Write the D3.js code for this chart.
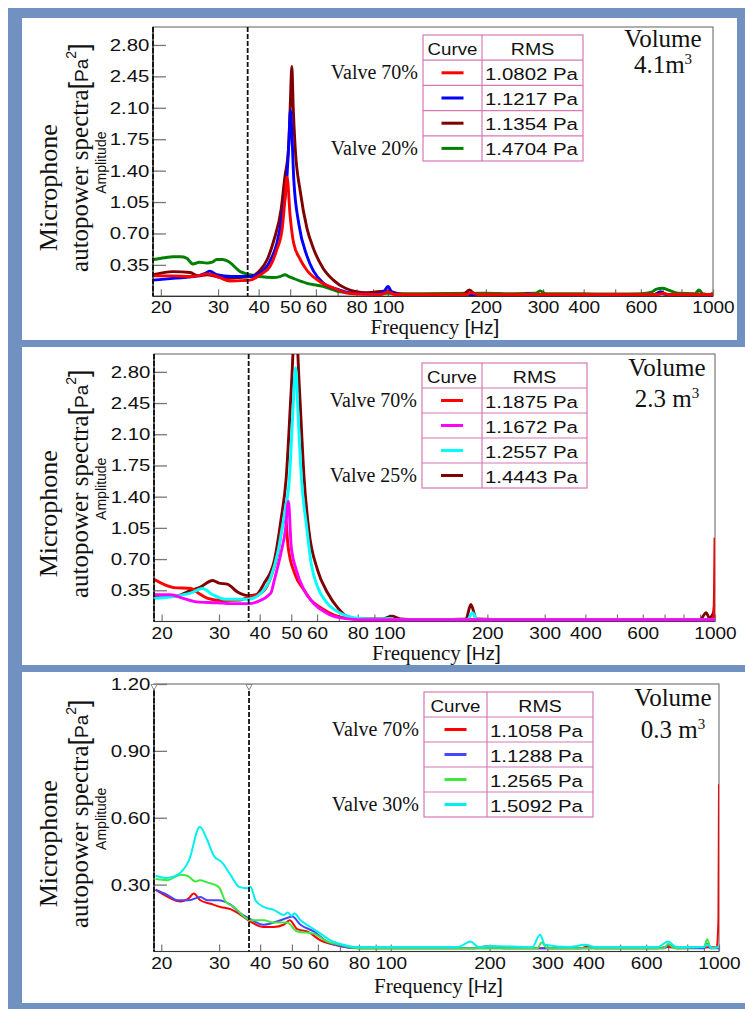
<!DOCTYPE html>
<html><head><meta charset="utf-8">
<script src="https://cdn.jsdelivr.net/npm/d3@7"></script>
<style>body{margin:0;background:#fff}svg{display:block}</style>
</head><body>
<script>
// ---------------- data ----------------
const xTickValues = [20,30,40,50,60,70,80,90,100,200,300,400,500,600,700,800,900,1000];
const xTickLabels = [20,30,40,50,60,80,100,200,300,400,600,1000];
const yTicksLarge = [0.35,0.70,1.05,1.40,1.75,2.10,2.45,2.80];
const yTicksSmall = [0.30,0.60,0.90,1.20];
const markerFreq = 37;

// Top panel (Volume 4.1 m3)
const topRed = [[19,0.227],[21.8,0.227],[24.6,0.22],[26.1,0.23],[27.7,0.25],[28.8,0.24],[30.3,0.21],[32.6,0.17],[35.6,0.175],[37.6,0.18],[40.4,0.24],[43.3,0.33],[45.5,0.52],[47.2,0.74],[48.2,1.08],[48.9,1.33],[50.0,0.89],[51.2,0.6],[53.7,0.41],[56.3,0.29],[61.9,0.16],[68.2,0.09],[74,0.04],[81,0.025],[95,0.02],[100,0.05],[105,0.02],[175,0.02],[180,0.04],[190,0.02],[680,0.02],[700,0.035],[730,0.02],[1000,0.02]];
const topBlue = [[19,0.18],[21.8,0.2],[26.1,0.227],[27.5,0.26],[28.3,0.28],[29.7,0.24],[33,0.22],[37.6,0.22],[40.4,0.26],[43.3,0.39],[45.5,0.59],[47.2,0.89],[48.9,1.34],[49.6,1.75],[50.1,2.07],[50.7,1.75],[51.3,1.3],[53.2,0.8],[56.3,0.45],[59,0.28],[63.1,0.15],[71,0.07],[80,0.03],[92,0.025],[97,0.05],[100,0.11],[103,0.04],[110,0.02],[260,0.02],[270,0.03],[280,0.015],[660,0.02],[690,0.045],[720,0.02],[1000,0.015]];
const topMaroon = [[19,0.24],[21.8,0.275],[24.6,0.265],[26.1,0.227],[27.7,0.24],[29.7,0.22],[31.7,0.2],[34.9,0.21],[37.6,0.22],[40.4,0.29],[42.5,0.41],[44.6,0.63],[46.9,0.97],[48.2,1.34],[49.4,1.64],[50.0,2.1],[50.6,2.56],[51.1,2.1],[51.8,1.66],[53.7,1.17],[56.3,0.76],[59,0.53],[63.2,0.31],[67.9,0.18],[74,0.09],[86,0.04],[100,0.06],[110,0.02],[170,0.02],[178,0.07],[186,0.02],[660,0.02],[690,0.05],[720,0.02],[1000,0.015]];
const topGreen = [[19,0.41],[20.5,0.43],[21.8,0.44],[23,0.44],[24,0.425],[25.1,0.36],[26.3,0.38],[27.7,0.37],[28.8,0.38],[29.7,0.41],[31,0.41],[32.2,0.39],[35.1,0.275],[37.6,0.24],[40.4,0.22],[44.3,0.21],[46.5,0.22],[48.2,0.24],[49.5,0.22],[51.1,0.2],[56.3,0.145],[63.1,0.11],[71.2,0.05],[80.2,0.035],[120,0.03],[200,0.035],[240,0.03],[285,0.035],[294,0.06],[305,0.03],[400,0.03],[500,0.025],[600,0.03],[650,0.05],[670,0.08],[700,0.09],[730,0.07],[780,0.035],[880,0.03],[905,0.07],[930,0.03],[980,0.02],[1000,0.04]];

// Middle panel (Volume 2.3 m3)
const midRed = [[19,0.47],[21.8,0.38],[24.6,0.37],[25.9,0.32],[27.7,0.26],[30.6,0.235],[34.9,0.24],[37,0.28],[38.7,0.29],[41.3,0.35],[43.3,0.5],[45.5,0.77],[47.1,1.1],[48,1.16],[48.9,0.84],[51.2,0.54],[54.8,0.35],[57.5,0.24],[61.9,0.15],[68,0.07],[74,0.035],[85,0.02],[970,0.02],[990,0.05],[996,0.3],[1000,0.94]];
const midMagenta = [[19,0.3],[21.3,0.3],[23.3,0.26],[25.6,0.22],[29.7,0.21],[32.6,0.2],[37,0.2],[39.2,0.22],[43.3,0.32],[44.4,0.47],[46.5,0.77],[48,1.03],[49,1.35],[50,0.84],[51.8,0.58],[54.8,0.35],[58.7,0.2],[63.2,0.11],[67.9,0.054],[75,0.03],[85,0.02],[1000,0.02]];
const midCyan = [[19,0.26],[21.8,0.28],[24.6,0.32],[26.7,0.37],[28.7,0.3],[31.4,0.25],[37,0.25],[40.4,0.32],[43.3,0.5],[45.5,0.78],[47.8,1.24],[49.4,1.62],[50.5,2.3],[51.6,2.85],[52.5,2.3],[53.7,1.62],[55.8,1.05],[57.5,0.66],[60.2,0.39],[64.7,0.2],[71,0.09],[78.3,0.04],[90,0.025],[100,0.035],[106,0.02],[174,0.02],[180,0.1],[186,0.02],[1000,0.02]];
const midMaroon = [[19,0.28],[21.8,0.28],[24.6,0.35],[26.1,0.38],[28.7,0.46],[30,0.43],[31.8,0.42],[34.2,0.33],[36.9,0.29],[39,0.3],[41.3,0.43],[44.4,0.69],[46.5,1.14],[48.2,1.59],[50,2.6],[51.5,3.4],[53,2.6],[54.8,1.59],[56.6,1.03],[60.2,0.58],[64.7,0.32],[69.6,0.15],[74,0.06],[80,0.03],[95,0.03],[102,0.06],[108,0.03],[130,0.02],[172,0.03],[178,0.19],[185,0.03],[300,0.02],[900,0.02],[940,0.1],[960,0.04],[990,0.1],[1000,0.25]];

// Bottom panel (Volume 0.3 m3)
const botRed = [[19.2,0.277],[20.85,0.246],[22.9,0.224],[24.3,0.24],[25.1,0.26],[26.3,0.23],[28.3,0.214],[30.3,0.2],[32.5,0.19],[34.9,0.164],[37.4,0.134],[41,0.11],[44,0.11],[47.2,0.12],[49.2,0.14],[51.9,0.1],[55.6,0.09],[61.1,0.05],[70,0.025],[80,0.015],[180,0.015],[200,0.025],[220,0.015],[380,0.015],[400,0.025],[420,0.015],[650,0.015],[700,0.02],[750,0.015],[985,0.02],[996,0.15],[1000,0.75]];
const botBlue = [[19.2,0.277],[20.85,0.254],[22.4,0.23],[24.3,0.23],[26.3,0.244],[27.6,0.23],[29.9,0.23],[31,0.225],[32.5,0.21],[34.9,0.17],[37.4,0.145],[41,0.12],[44,0.13],[48.3,0.15],[50.1,0.157],[53.1,0.12],[58.3,0.09],[64,0.044],[70,0.025],[80,0.015],[680,0.015],[710,0.03],[740,0.015],[900,0.015],[920,0.035],[940,0.015],[1000,0.015]];
const botGreen = [[19.2,0.325],[20.85,0.32],[22.9,0.344],[24,0.34],[25.4,0.314],[26.2,0.32],[27.6,0.31],[29.9,0.29],[31.4,0.224],[33.3,0.2],[35.7,0.157],[37.4,0.14],[41,0.14],[44,0.13],[48.3,0.13],[51.9,0.09],[58.3,0.08],[64,0.044],[70.2,0.03],[80,0.015],[280,0.015],[288,0.04],[300,0.015],[680,0.015],[700,0.035],[730,0.015],[900,0.02],[920,0.055],[945,0.015],[1000,0.02]];
const botCyan = [[19.2,0.34],[20.85,0.33],[22.4,0.344],[24.3,0.41],[26.2,0.56],[27.6,0.5],[28.9,0.43],[30.6,0.4],[32.5,0.344],[34.5,0.29],[36.5,0.284],[37.4,0.29],[38.7,0.23],[41,0.2],[44,0.187],[47.2,0.164],[48.6,0.175],[49.8,0.16],[50.9,0.17],[53.1,0.14],[56.9,0.11],[61.1,0.08],[65.5,0.05],[70.2,0.034],[79,0.02],[160,0.02],[175,0.045],[185,0.02],[200,0.025],[270,0.02],[285,0.075],[295,0.03],[350,0.02],[390,0.03],[420,0.02],[650,0.02],[700,0.045],[740,0.02],[900,0.02],[920,0.03],[960,0.015],[1000,0.02]];

const topRms = ["1.0802 Pa","1.1217 Pa","1.1354 Pa","1.4704 Pa"];
const midRms = ["1.1875 Pa","1.1672 Pa","1.2557 Pa","1.4443 Pa"];
const botRms = ["1.1058 Pa","1.1288 Pa","1.2565 Pa","1.5092 Pa"];
const topValves = ["Valve 70%","","","Valve 20%"];
const midValves = ["Valve 70%","","","Valve 25%"];
const botValves = ["Valve 70%","","","Valve 30%"];
const volumeLabels = ["4.1m","2.3 m","0.3 m"];

// ---------------- layout / styles ----------------
const BLUE = "#7191c1", PINK = "#d877b6";
const panels = [
  {box:[22,18,715,322], plot:[153,713,27,296.3], xMin:18.92, yMax:3.0, yTicks:yTicksLarge, lw:2.9,
   series:[{d:topGreen,c:"#008000"},{d:topMaroon,c:"#800000"},{d:topBlue,c:"#0000ff"},{d:topRed,c:"#ff0000"}],
   legendColors:["#ff0000","#0000ff","#800000","#008000"], rms:topRms, valves:topValves,
   legend:[423,482,583,35,25.2], vol:[663,47,73,volumeLabels[0]], tri:false, xt:38},
  {box:[22,347,723,318], plot:[154,715,354,621.5], xMin:18.95, yMax:3.0, yTicks:yTicksLarge, lw:2.9,
   series:[{d:midMaroon,c:"#800000"},{d:midRed,c:"#ff0000"},{d:midCyan,c:"#00ffff"},{d:midMagenta,c:"#ff00ff"}],
   legendColors:["#ff0000","#ff00ff","#00ffff","#800000"], rms:midRms, valves:midValves,
   legend:[422,482,587,363,25], vol:[667,376,407,volumeLabels[1]], tri:false, xt:38},
  {box:[22,672,723,331], plot:[154,719,684,951.5], xMin:19.0, yMax:1.2, yTicks:yTicksSmall, lw:2,
   series:[{d:botRed,c:"#ff0000"},{d:botBlue,c:"#4646ff"},{d:botGreen,c:"#3ee83e"},{d:botCyan,c:"#00f0f0"}],
   legendColors:["#ff0000","#4646ff","#3ee83e","#00f0f0"], rms:botRms, valves:botValves,
   legend:[424,487,593,692,25], vol:[673,706,738,volumeLabels[2]], tri:true, xt:41}
];

const svg = d3.select("body").append("svg").attr("width",745).attr("height",1009);
svg.append("rect").attr("width",745).attr("height",1009).attr("fill","#fff");
svg.append("rect").attr("x",8).attr("y",8).attr("width",737).attr("height",1001).attr("fill",BLUE);

const SANS = "'Liberation Sans', Arial, sans-serif";
const SERIF = "'Liberation Serif', 'Times New Roman', serif";

function sText(g, x, y, str, size, anchor, sx, fam, fill){
  return g.append("text").attr("transform",`translate(${x},${y}) scale(${sx},1)`)
    .attr("text-anchor",anchor).attr("font-family",fam||SANS).attr("font-size",size)
    .attr("fill",fill||"#111").text(str);
}

panels.forEach((p,pi)=>{
  const [bx,by,bw,bh] = p.box;
  svg.append("rect").attr("x",bx).attr("y",by).attr("width",bw).attr("height",bh).attr("fill","#fff");
  const [x0,x1,y0,y1] = p.plot;
  const x = d3.scaleLog().domain([p.xMin,1000]).range([x0,x1]);
  const y = d3.scaleLinear().domain([0,p.yMax]).range([y1,y0]);
  const g = svg.append("g");

  // plot frame
  g.append("rect").attr("x",x0).attr("y",y0).attr("width",x1-x0).attr("height",y1-y0)
    .attr("fill","none").attr("stroke","#7a7a7a").attr("stroke-width",1.2);

  // y axis
  const ya = g.append("g").attr("transform",`translate(${x0},0)`)
    .call(d3.axisLeft(y).tickValues(p.yTicks).tickSize(-13).tickPadding(3).tickFormat(d3.format(".2f")));
  ya.select(".domain").remove();
  ya.selectAll("line").attr("stroke","#777").attr("stroke-width",1.3);
  ya.selectAll("text").attr("font-family",SANS).attr("font-size",17).attr("fill","#111")
    .attr("transform","scale(1.2,1)");

  // x axis
  const xa = g.append("g").attr("transform",`translate(0,${y1})`)
    .call(d3.axisBottom(x).tickValues(xTickValues).tickSize(-7).tickPadding(5)
      .tickFormat(d => xTickLabels.includes(d) ? String(d) : ""));
  xa.select(".domain").remove();
  xa.selectAll("line").attr("stroke","#777").attr("stroke-width",1.2);
  xa.selectAll("text").attr("font-family",SANS).attr("font-size",17).attr("fill","#111")
    .attr("transform","scale(1.12,1)");

  // axis lines
  g.append("line").attr("x1",x0).attr("x2",x1).attr("y1",y1).attr("y2",y1).attr("stroke","#333").attr("stroke-width",1.2);
  g.append("line").attr("x1",x0).attr("x2",x0).attr("y1",y0).attr("y2",y1).attr("stroke","#222").attr("stroke-width",1.2);

  // curves
  const cid = "clip"+pi;
  svg.append("clipPath").attr("id",cid).append("rect").attr("x",x0).attr("y",y0).attr("width",x1-x0).attr("height",y1-y0);
  const line = d3.line().x(d=>x(d[0])).y(d=>y(d[1])).curve(d3.curveMonotoneX);
  const cg = g.append("g").attr("clip-path",`url(#${cid})`);
  p.series.forEach(s=>{
    cg.append("path").attr("d",line(s.d)).attr("fill","none").attr("stroke",s.c)
      .attr("stroke-width",p.lw).attr("stroke-linejoin","round");
  });

  // dashed marker lines
  [p.xMin, markerFreq].forEach(f=>{
    g.append("line").attr("x1",x(f)).attr("x2",x(f)).attr("y1",y0).attr("y2",y1)
      .attr("stroke","#111").attr("stroke-width",1.8).attr("stroke-dasharray","5,2");
    if(p.tri){
      const cx = x(f);
      g.append("path").attr("d",`M${cx-3},${y0+0.5}L${cx+3},${y0+0.5}L${cx},${y0+6}Z`)
        .attr("fill","#fff").attr("stroke","#888").attr("stroke-width",1);
    }
  });

  // y title
  const cy = (y0+y1)/2;
  g.append("text").attr("transform",`translate(57,${cy+26}) rotate(-90)`).attr("text-anchor","middle")
    .attr("font-family",SERIF).attr("font-size",26).attr("fill","#111").text("Microphone");
  const t2 = g.append("text").attr("transform",`translate(88,${cy-4}) rotate(-90)`).attr("text-anchor","middle")
    .attr("font-family",SERIF).attr("font-size",25).attr("fill","#111");
  t2.append("tspan").text("autopower spectra");
  t2.append("tspan").attr("font-family",SANS).attr("font-size",27).attr("font-weight",300).text("[");
  t2.append("tspan").attr("font-family",SANS).attr("font-size",19).text("Pa");
  t2.append("tspan").attr("font-family",SANS).attr("font-size",14).attr("dy",-12).text("2");
  t2.append("tspan").attr("font-family",SANS).attr("font-size",27).attr("font-weight",300).attr("dy",12).text("]");
  g.append("text").attr("transform",`translate(106,${cy+1}) rotate(-90)`).attr("text-anchor","middle")
    .attr("font-family",SANS).attr("font-size",14).attr("fill","#111").text("Amplitude");

  // x title
  const xt = g.append("text").attr("x",(x0+x1)/2+2).attr("y",y1+p.xt).attr("text-anchor","middle")
    .attr("font-family",SERIF).attr("font-size",21).attr("fill","#111");
  xt.append("tspan").text("Frequency ");
  xt.append("tspan").attr("font-family",SANS).attr("font-size",21).text("[");
  xt.append("tspan").attr("font-family",SANS).attr("font-size",19).text("Hz");
  xt.append("tspan").attr("font-family",SANS).attr("font-size",21).text("]");

  // legend table
  const [lx0,lx1,lx2,ly0,rh] = p.legend;
  const lg = g.append("g");
  const nRows = p.rms.length + 1;
  lg.append("rect").attr("x",lx0).attr("y",ly0).attr("width",lx2-lx0).attr("height",rh*nRows)
    .attr("fill","#fff").attr("stroke",PINK).attr("stroke-width",1.2);
  lg.append("line").attr("x1",lx1).attr("x2",lx1).attr("y1",ly0).attr("y2",ly0+rh*nRows).attr("stroke",PINK).attr("stroke-width",1.2);
  for(let r=1;r<nRows;r++){
    lg.append("line").attr("x1",lx0).attr("x2",lx2).attr("y1",ly0+rh*r).attr("y2",ly0+rh*r).attr("stroke",PINK).attr("stroke-width",1.2);
  }
  sText(lg,(lx0+lx1)/2,ly0+20,"Curve",17,"middle",1.1);
  sText(lg,(lx1+lx2)/2,ly0+20,"RMS",17,"middle",1.15);
  p.rms.forEach((v,i)=>{
    const ry = ly0 + rh*(i+1);
    const mx = (lx0+lx1)/2;
    lg.append("line").attr("x1",mx-11).attr("x2",mx+11).attr("y1",ry+rh/2).attr("y2",ry+rh/2)
      .attr("stroke",p.legendColors[i]).attr("stroke-width",3);
    sText(lg,lx1+3,ry+19.5,v,17,"start",1.2);
    if(p.valves[i]) lg.append("text").attr("x",lx0-5).attr("y",ry+19).attr("text-anchor","end")
      .attr("font-family",SERIF).attr("font-size",20).attr("fill","#111").text(p.valves[i]);
  });

  // volume label
  const [vx,vy1,vy2,vlab] = p.vol;
  g.append("text").attr("x",vx).attr("y",vy1).attr("text-anchor","middle").attr("font-family",SERIF)
    .attr("font-size",25).attr("fill","#111").text("Volume");
  const vt = g.append("text").attr("x",vx).attr("y",vy2).attr("text-anchor","middle").attr("font-family",SERIF)
    .attr("font-size",25).attr("fill","#111");
  vt.append("tspan").text(vlab);
  vt.append("tspan").attr("font-size",15).attr("dy",-9).text("3");
});
</script>
</body></html>
